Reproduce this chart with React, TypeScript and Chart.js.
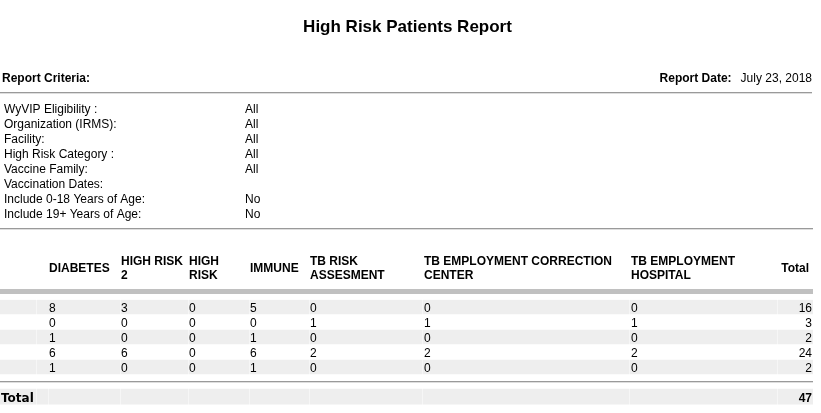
import React, { useEffect, useRef } from 'react';
import { Chart, registerables } from 'chart.js';

Chart.register(...registerables);

// ---------- data ----------
const reportTitle = 'High Risk Patients Report';
const criteriaHeading = 'Report Criteria:';
const reportDateLabel = 'Report Date:';
const reportDate = 'July 23, 2018';

const criteriaLabels = [
  'WyVIP Eligibility :',
  'Organization (IRMS):',
  'Facility:',
  'High Risk Category :',
  'Vaccine Family:',
  'Vaccination Dates:',
  'Include 0-18 Years of Age:',
  'Include 19+ Years of Age:',
];
const criteriaValues = ['All', 'All', 'All', 'All', 'All', '', 'No', 'No'];

const categories = [
  'DIABETES',
  'HIGH RISK 2',
  'HIGH RISK',
  'IMMUNE',
  'TB RISK ASSESMENT',
  'TB EMPLOYMENT CORRECTION CENTER',
  'TB EMPLOYMENT HOSPITAL',
];
const totalHeader = 'Total';

const diabetes = [8, 0, 1, 6, 1];
const highRisk2 = [3, 0, 0, 6, 0];
const highRisk = [0, 0, 0, 0, 0];
const immune = [5, 0, 1, 6, 1];
const tbRiskAssesment = [0, 1, 0, 2, 0];
const tbEmploymentCorrection = [0, 1, 0, 2, 0];
const tbEmploymentHospital = [0, 1, 0, 2, 0];
const rowTotals = [16, 3, 2, 24, 2];
const grandTotal = 47;
const totalLabel = 'Total';

const seriesValues = [
  diabetes,
  highRisk2,
  highRisk,
  immune,
  tbRiskAssesment,
  tbEmploymentCorrection,
  tbEmploymentHospital,
];

// ---------- layout (table geometry in x-scale units) ----------
const bodyCells = [
  [0, 36], [37, 120], [121, 188], [189, 249], [250, 309],
  [310, 422], [423, 629], [630, 777], [778, 813],
];
const totalCells = [
  [0, 36], [37, 48], [49, 120], [121, 188], [189, 249], [250, 309],
  [310, 422], [423, 629], [630, 777], [778, 813],
];
const colTextX = [49, 121, 189, 250, 310, 424, 631];
const colTextEnd = [120, 188, 249, 309, 422, 629, 777];
const totalColRight = 812;
const headerTotalRight = 809;

const ROW_COUNT = rowTotals.length;
const rowIds = [...rowTotals.map((_, i) => 'row' + (i + 1)), 'spacer', 'total'];
const TOTAL_INDEX = rowIds.length - 1;
const SPACER_INDEX = rowIds.length - 2;

const SANS = '"Liberation Sans", Arial, sans-serif';
const BAND = '#eeeeee';

function wrapWords(ctx: CanvasRenderingContext2D, text: string, maxW: number): string[] {
  const words = text.split(' ');
  const lines: string[] = [];
  let cur = '';
  for (const w of words) {
    const t = cur ? cur + ' ' + w : w;
    if (cur && ctx.measureText(t).width > maxW) {
      lines.push(cur);
      cur = w;
    } else {
      cur = t;
    }
  }
  if (cur) lines.push(cur);
  return lines;
}

function hr(ctx: CanvasRenderingContext2D, x0: number, x1: number, y: number) {
  ctx.fillStyle = '#9a9a9a';
  ctx.fillRect(x0, y, x1 - x0, 1);
  ctx.fillStyle = '#dedede';
  ctx.fillRect(x0, y + 1, x1 - x0, 1);
}

const reportPlugin = {
  id: 'reportText',
  afterDatasetsDraw(chart: any) {
    const { ctx, chartArea } = chart;
    const xs = chart.scales.x;
    const ys = chart.scales.y;
    const left = xs.getPixelForValue(0);
    const right = xs.getPixelForValue(813);
    ctx.save();
    ctx.textBaseline = 'alphabetic';
    ctx.fillStyle = '#000';

    // title
    ctx.font = `bold 17px ${SANS}`;
    ctx.textAlign = 'center';
    ctx.fillText(reportTitle, (left + right) / 2 + 1, 32);

    // criteria heading / date
    ctx.font = `bold 12px ${SANS}`;
    ctx.textAlign = 'left';
    ctx.fillText(criteriaHeading, left + 2, 82);
    ctx.font = `12px ${SANS}`;
    ctx.textAlign = 'right';
    ctx.fillText(reportDate, right - 1, 82);
    const dw = ctx.measureText(reportDate).width;
    ctx.font = `bold 12px ${SANS}`;
    ctx.fillText(reportDateLabel, right - 1 - dw - 9, 82);

    hr(ctx, left, right - 1, 92);

    // criteria list
    ctx.font = `12px ${SANS}`;
    ctx.textAlign = 'left';
    ctx.fillStyle = '#000';
    criteriaLabels.forEach((lab, i) => {
      const by = 113 + i * 15;
      ctx.fillText(lab, left + 4, by);
      if (criteriaValues[i]) ctx.fillText(criteriaValues[i], left + 245, by);
    });

    hr(ctx, left, right, 228);

    // column headers
    ctx.font = `bold 12px ${SANS}`;
    ctx.fillStyle = '#000';
    categories.forEach((cat, c) => {
      const x0 = xs.getPixelForValue(colTextX[c]);
      const x1 = xs.getPixelForValue(colTextEnd[c]);
      const lines = wrapWords(ctx, cat, x1 - x0 - 2);
      const lh = 14;
      const mid = 267.5;
      const first = mid - ((lines.length - 1) * lh) / 2 + 4;
      ctx.textAlign = 'left';
      lines.forEach((ln, k) => ctx.fillText(ln, x0, first + k * lh));
    });
    ctx.textAlign = 'right';
    ctx.fillText(totalHeader, xs.getPixelForValue(headerTotalRight), 271.5);

    // thick separator
    ctx.fillStyle = '#c0c0c0';
    ctx.fillRect(left, 289, right - left, 5);

    // body values
    ctx.font = `12px ${SANS}`;
    ctx.fillStyle = '#000';
    for (let r = 0; r < ROW_COUNT; r++) {
      const by = Math.round(ys.getPixelForValue(r)) + 5;
      ctx.textAlign = 'left';
      seriesValues.forEach((vals, c) => {
        ctx.fillText(String(vals[r]), xs.getPixelForValue(colTextX[c]), by);
      });
      ctx.textAlign = 'right';
      ctx.fillText(String(rowTotals[r]), xs.getPixelForValue(totalColRight), by);
    }

    // spacer line
    const sy = Math.round(ys.getPixelForValue(SPACER_INDEX)) - 1;
    hr(ctx, left, right, sy);

    // total row
    const ty = Math.round(ys.getPixelForValue(TOTAL_INDEX)) + 5;
    ctx.fillStyle = '#000';
    ctx.textAlign = 'left';
    ctx.font = `bold 12px "DejaVu Sans", Verdana, sans-serif`;
    ctx.fillText(totalLabel, left + 1, ty);
    ctx.textAlign = 'right';
    ctx.font = `bold 12px ${SANS}`;
    ctx.fillText(String(grandTotal), xs.getPixelForValue(totalColRight), ty);

    ctx.restore();
  },
};

export default function App() {
  const ref = useRef<HTMLCanvasElement>(null);

  useEffect(() => {
    document.body.style.margin = '0';
    const canvas = ref.current;
    if (!canvas) return;

    const datasets: any[] = [];
    bodyCells.forEach(([a, b]) => {
      datasets.push({
        label: 'body',
        data: rowIds.map((_, i) => (i < ROW_COUNT && i % 2 === 0 ? [a, b] : null)),
        backgroundColor: BAND,
        borderWidth: 0,
        barThickness: 14,
        grouped: false,
      });
    });
    totalCells.forEach(([a, b]) => {
      datasets.push({
        label: 'total',
        data: rowIds.map((_, i) => (i === TOTAL_INDEX ? [a, b] : null)),
        backgroundColor: BAND,
        borderWidth: 0,
        barThickness: 16,
        grouped: false,
      });
    });

    const chart = new Chart(canvas, {
      type: 'bar',
      data: { labels: rowIds, datasets },
      options: {
        indexAxis: 'y',
        responsive: false,
        animation: false,
        devicePixelRatio: 1,
        layout: { padding: { top: 299.5, bottom: 8.5, left: 0, right: 8 } },
        scales: {
          x: { type: 'linear', min: 0, max: 813, display: false },
          y: { type: 'category', display: false },
        },
        plugins: {
          legend: { display: false },
          tooltip: { enabled: false },
          title: { display: false },
        },
      } as any,
      plugins: [reportPlugin],
    });

    return () => chart.destroy();
  }, []);

  return (
    <div style={{ width: 821, height: 413, background: '#fff' }}>
      <canvas ref={ref} width={821} height={413} style={{ display: 'block', width: 821, height: 413 }} />
    </div>
  );
}
